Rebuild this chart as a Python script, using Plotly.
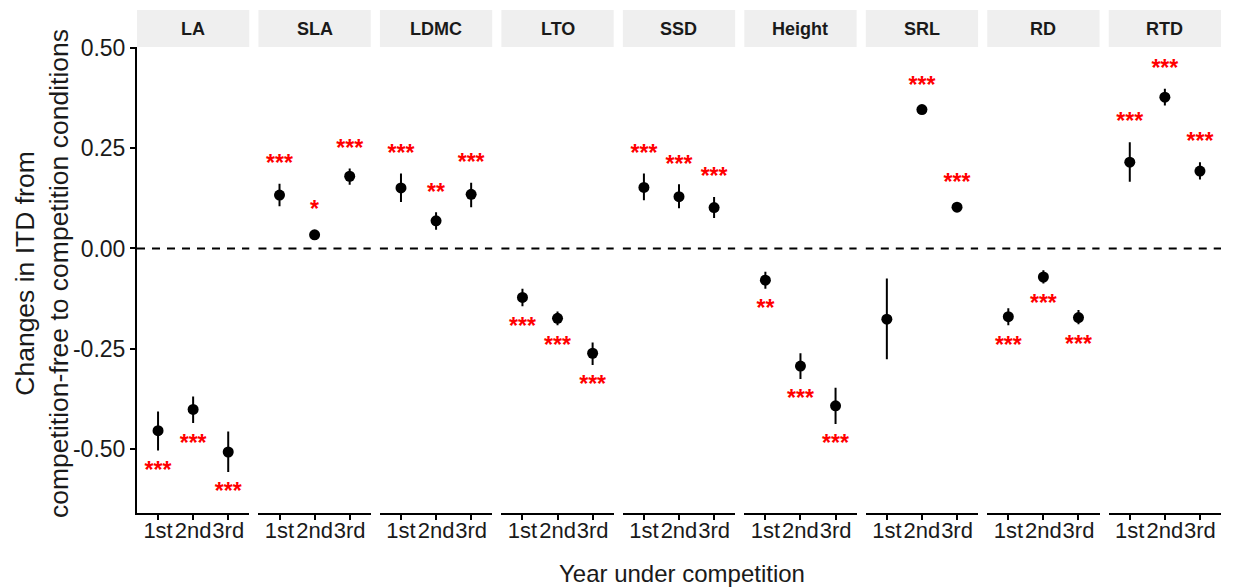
import plotly.graph_objects as go
from plotly.subplots import make_subplots

traits = ["LA", "SLA", "LDMC", "LTO", "SSD", "Height", "SRL", "RD", "RTD"]
years = ["1st", "2nd", "3rd"]

mean_vals = {
    "LA": [-0.454, -0.401, -0.507],
    "SLA": [0.133, 0.034, 0.180],
    "LDMC": [0.151, 0.069, 0.135],
    "LTO": [-0.122, -0.174, -0.261],
    "SSD": [0.152, 0.129, 0.102],
    "Height": [-0.079, -0.293, -0.392],
    "SRL": [-0.176, 0.346, 0.103],
    "RD": [-0.170, -0.071, -0.172],
    "RTD": [0.215, 0.377, 0.193],
}
upper_vals = {
    "LA": [-0.406, -0.369, -0.456],
    "SLA": [0.161, 0.046, 0.199],
    "LDMC": [0.187, 0.090, 0.164],
    "LTO": [-0.100, -0.157, -0.234],
    "SSD": [0.187, 0.160, 0.128],
    "Height": [-0.058, -0.261, -0.347],
    "SRL": [-0.075, 0.355, 0.114],
    "RD": [-0.149, -0.054, -0.153],
    "RTD": [0.265, 0.398, 0.215],
}
lower_vals = {
    "LA": [-0.503, -0.435, -0.557],
    "SLA": [0.105, 0.024, 0.159],
    "LDMC": [0.116, 0.047, 0.103],
    "LTO": [-0.144, -0.191, -0.290],
    "SSD": [0.120, 0.100, 0.076],
    "Height": [-0.100, -0.325, -0.437],
    "SRL": [-0.276, 0.337, 0.092],
    "RD": [-0.191, -0.087, -0.189],
    "RTD": [0.166, 0.356, 0.172],
}
signif = {
    "LA": ["***", "***", "***"],
    "SLA": ["***", "*", "***"],
    "LDMC": ["***", "**", "***"],
    "LTO": ["***", "***", "***"],
    "SSD": ["***", "***", "***"],
    "Height": ["**", "***", "***"],
    "SRL": ["", "***", "***"],
    "RD": ["***", "***", "***"],
    "RTD": ["***", "***", "***"],
}

Y_RANGE = [-0.659, 0.502]
LABEL_GAP = 0.05
GLYPH_ADJ = -0.004
FONT = "Liberation Sans, Arial, Helvetica, sans-serif"

# page body has an 8px default margin in the browser
OFF = 8
W, H = 1238 - OFF, 588 - OFF
ML, MT = 137 - OFF, 47 - OFF
MR = W - (1221 - OFF)
MB = H - (513 - OFF)
plot_w = W - ML - MR
plot_h = H - MT - MB

fig = make_subplots(rows=1, cols=9, shared_yaxes=True,
                    horizontal_spacing=9.2 / plot_w)

for i, t in enumerate(traits):
    m = mean_vals[t]
    up = [u - v for u, v in zip(upper_vals[t], m)]
    lo = [v - l for l, v in zip(lower_vals[t], m)]
    fig.add_trace(go.Scatter(
        x=years, y=m, mode="markers",
        marker=dict(color="black", size=11),
        error_y=dict(type="data", array=up, arrayminus=lo, symmetric=False,
                     color="black", thickness=2, width=0),
        showlegend=False, hoverinfo="skip"), row=1, col=i + 1)
    ly = []
    for v, u, l in zip(m, upper_vals[t], lower_vals[t]):
        ly.append((u + LABEL_GAP if v > 0 else l - LABEL_GAP) + GLYPH_ADJ)
    fig.add_trace(go.Scatter(
        x=years, y=ly, mode="text", text=[f"<b>{s}</b>" for s in signif[t]],
        textposition="middle center",
        textfont=dict(color="#FF0000", size=23, family=FONT),
        showlegend=False, hoverinfo="skip"), row=1, col=i + 1)

strip_h = 37 / plot_h
for i, t in enumerate(traits):
    xa = "xaxis" if i == 0 else f"xaxis{i+1}"
    ya = "yaxis" if i == 0 else f"yaxis{i+1}"
    xref = "x" if i == 0 else f"x{i+1}"
    yref = "y" if i == 0 else f"y{i+1}"
    fig.update_layout({
        xa: dict(type="category", categoryorder="array", categoryarray=years,
                 range=[-0.6, 2.6], showline=True, linecolor="black",
                 linewidth=2, ticks="outside", ticklen=5, tickwidth=1.5,
                 tickcolor="black", showgrid=False, zeroline=False,
                 tickangle=0, ticklabelstandoff=-8,
                 tickfont=dict(size=22, color="#1a1a1a", family=FONT)),
        ya: dict(range=Y_RANGE, showgrid=False, zeroline=False,
                 showline=(i == 0), linecolor="black", linewidth=2,
                 ticks="outside" if i == 0 else "", ticklen=5, tickwidth=1.5,
                 tickcolor="black", showticklabels=(i == 0),
                 tickvals=[-0.5, -0.25, 0, 0.25, 0.5],
                 ticktext=["-0.50", "-0.25", "0.00", "0.25", "0.50"],
                 tickfont=dict(size=23, color="#1a1a1a", family=FONT)),
    })
    fig.add_shape(type="line", xref=f"{xref} domain", yref=yref,
                  x0=0, x1=1, y0=0, y1=0,
                  line=dict(color="black", width=2, dash="8px,7px"))
    fig.add_shape(type="rect", xref=f"{xref} domain", yref="paper",
                  x0=0, x1=1, y0=1, y1=1 + strip_h,
                  fillcolor="#EFEFEF", line=dict(width=0), layer="below")
    fig.add_annotation(text=f"<b>{t}</b>", xref=f"{xref} domain", yref="paper",
                       x=0.5, y=1 + strip_h / 2, showarrow=False,
                       xanchor="center", yanchor="middle",
                       font=dict(size=18, color="#1a1a1a", family=FONT))

fig.add_annotation(text="Changes in ITD from<br>competition-free to competition conditions",
                   xref="paper", yref="paper", x=(42 - OFF - ML) / plot_w,
                   y=1 - (274 - OFF - MT) / plot_h,
                   textangle=-90, showarrow=False, xanchor="center", yanchor="middle",
                   font=dict(size=26.5, color="#1a1a1a", family=FONT))
fig.add_annotation(text="Year under competition", xref="paper", yref="paper",
                   x=(682 - OFF - ML) / plot_w, y=-(573 - OFF - (H - MB)) / plot_h,
                   showarrow=False, xanchor="center", yanchor="middle",
                   font=dict(size=24, color="#1a1a1a", family=FONT))

fig.update_layout(width=W, height=H, margin=dict(l=ML, r=MR, t=MT, b=MB),
                  plot_bgcolor="white", paper_bgcolor="white",
                  font=dict(family=FONT, color="black"))

fig.write_html("out.html")
